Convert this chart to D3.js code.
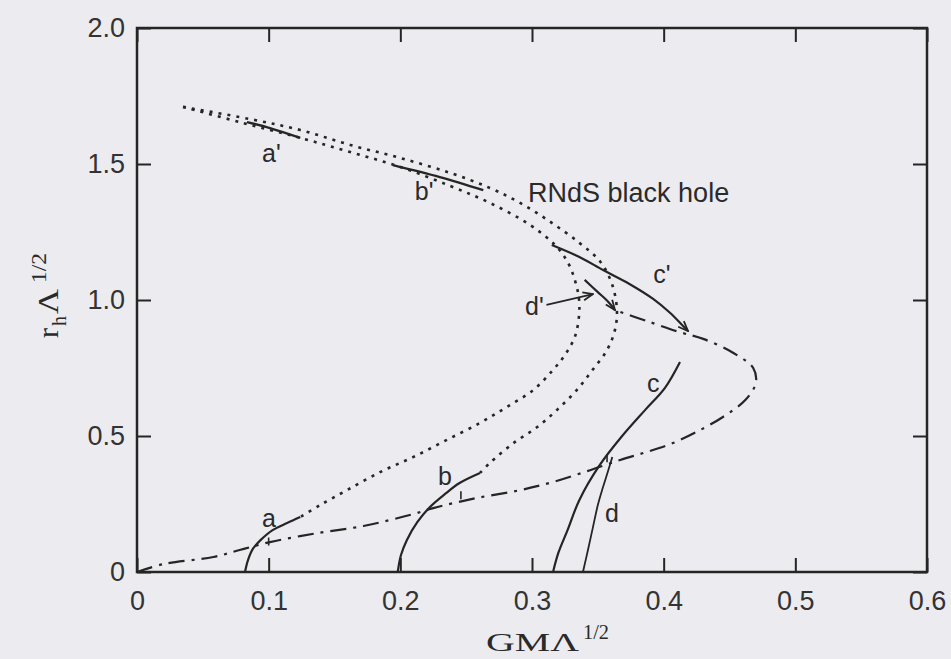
<!DOCTYPE html>
<html>
<head>
<meta charset="utf-8">
<script src="https://cdn.jsdelivr.net/npm/d3@7"></script>
<style>
    body { margin: 0; background: #ececf0; }
    svg { display: block; }
</style>
</head>
<body>
<svg id="chart" width="951" height="659"></svg>
<script>
"use strict";

// axis ticks
const xTicks = [0, 0.1, 0.2, 0.3, 0.4, 0.5, 0.6];
const yTicks = [0, 0.5, 1.0, 1.5, 2.0];

// RNdS black hole branches (dotted)
const rndsOuter = [[0.035,1.710],[0.086,1.665],[0.124,1.625],[0.162,1.570],[0.200,1.522],[0.238,1.467],
    [0.268,1.412],[0.291,1.357],[0.314,1.287],[0.336,1.210],[0.352,1.140],[0.361,1.055],[0.3645,0.963],
    [0.363,0.890],[0.357,0.816],[0.346,0.743],[0.334,0.669],[0.319,0.596],[0.304,0.533],[0.286,0.474],
    [0.268,0.401],[0.2605,0.364]];
const rndsInner = [[0.035,1.710],[0.078,1.654],[0.124,1.596],[0.162,1.544],[0.200,1.489],[0.238,1.419],
    [0.268,1.357],[0.2985,1.276],[0.3175,1.202],[0.327,1.140],[0.333,1.066],[0.336,0.982],[0.333,0.871],
    [0.325,0.798],[0.316,0.743],[0.301,0.669],[0.281,0.607],[0.2605,0.548],[0.235,0.485],[0.210,0.423],
    [0.185,0.368],[0.1595,0.301],[0.139,0.246],[0.124,0.202]];

// boundary (dash-dot)
const boundary = [[0,0],[0.020,0.029],[0.058,0.055],[0.078,0.081],[0.101,0.110],[0.137,0.143],[0.172,0.169],
    [0.192,0.191],[0.210,0.213],[0.225,0.235],[0.258,0.272],[0.291,0.301],[0.316,0.331],[0.342,0.371],
    [0.367,0.412],[0.387,0.441],[0.407,0.474],[0.425,0.515],[0.445,0.570],[0.462,0.632],[0.470,0.695],
    [0.468,0.750],[0.453,0.805],[0.430,0.857],[0.412,0.882],[0.387,0.923],[0.3645,0.960]];

// solutions a-d (small branch) and a'-d' (large branch)
const curveA = [[0.082,0],[0.0843,0.044],[0.088,0.085],[0.094,0.118],[0.103,0.154],[0.114,0.180],[0.124,0.202]];
const curveB = [[0.198,0],[0.2005,0.0625],[0.205,0.118],[0.213,0.184],[0.2225,0.239],[0.234,0.287],[0.245,0.327],[0.2605,0.364]];
const curveC = [[0.316,0],[0.320,0.070],[0.327,0.154],[0.336,0.265],[0.351,0.390],[0.368,0.497],[0.386,0.596],[0.401,0.677],[0.4124,0.772]];
const curveD = [[0.3387,0],[0.3425,0.081],[0.3463,0.165],[0.350,0.246],[0.354,0.313],[0.358,0.375],[0.361,0.423]];
const curveA2 = [[0.0835,1.654],[0.101,1.632],[0.124,1.596]];
const curveB2 = [[0.1944,1.496],[0.230,1.452],[0.263,1.404]];
const curveC2 = [[0.315,1.202],[0.336,1.158],[0.354,1.110],[0.374,1.059],[0.392,1.004],[0.405,0.952],[0.414,0.908],[0.4185,0.886]];
const curveD2 = [[0.340,1.074],[0.350,1.029],[0.358,0.993],[0.363,0.963]];
const dArrow = [[0.311,0.982],[0.3463,1.022]];

// small marks where branches meet the boundary
const meetMarks = [[0.1000,0.112],[0.2460,0.282],[0.3570,0.418]];

// labels: text, x, y (baseline, data units)
const labels = [
    ["a'", 0.095, 1.507], ["b'", 0.211, 1.368], ["c'", 0.392, 1.0625], ["d'", 0.2947, 0.945],
    ["a", 0.095, 0.165], ["b", 0.2286, 0.320], ["c", 0.3873, 0.662], ["d", 0.3554, 0.184],
    ["RNdS black hole", 0.297, 1.360]
];

const ink = "#252525";
const svg = d3.select("#chart");

const x = d3.scaleLinear().domain([0, 0.6]).range([137, 927]);
const y = d3.scaleLinear().domain([0, 2]).range([572, 28]);

const defs = svg.append("defs");
defs.append("marker")
    .attr("id", "arrow")
    .attr("viewBox", "0 0 12 10")
    .attr("refX", 11).attr("refY", 5)
    .attr("markerWidth", 12).attr("markerHeight", 10)
    .attr("markerUnits", "userSpaceOnUse")
    .attr("orient", "auto")
    .append("path")
    .attr("d", "M1,1 L11,5 L1,9")
    .attr("fill", "none")
    .attr("stroke", ink)
    .attr("stroke-width", 1.8);

const fmt = d => d === 0 ? "0" : d.toFixed(1);
const tickFont = "'Liberation Sans', Arial, sans-serif";

function styleAxis(g) {
    g.select(".domain").remove();
    g.selectAll(".tick line").attr("stroke", ink).attr("stroke-width", 2);
    g.selectAll(".tick text").attr("fill", "#333").style("font-family", tickFont).style("font-size", "27px");
}

svg.append("g").attr("transform", "translate(0,572)")
    .call(d3.axisBottom(x).tickValues(xTicks).tickSize(-14).tickPadding(19).tickFormat(fmt))
    .call(styleAxis);
svg.append("g").attr("transform", "translate(0,28)")
    .call(d3.axisTop(x).tickValues(xTicks).tickSize(-14).tickFormat(""))
    .call(styleAxis);
svg.append("g").attr("transform", "translate(137,0)")
    .call(d3.axisLeft(y).tickValues(yTicks).tickSize(-14).tickPadding(12).tickFormat(fmt))
    .call(styleAxis);
svg.append("g").attr("transform", "translate(927,0)")
    .call(d3.axisRight(y).tickValues(yTicks).tickSize(-14).tickFormat(""))
    .call(styleAxis);

// frame
svg.append("rect")
    .attr("x", x(0)).attr("y", y(2))
    .attr("width", x(0.6) - x(0)).attr("height", y(0) - y(2))
    .attr("fill", "none").attr("stroke", ink).attr("stroke-width", 2.5);

const line = d3.line().x(d => x(d[0])).y(d => y(d[1])).curve(d3.curveCatmullRom.alpha(0.5));

function drawCurve(data, dash, width, arrow) {
    const p = svg.append("path")
        .datum(data)
        .attr("d", line)
        .attr("fill", "none")
        .attr("stroke", ink)
        .attr("stroke-width", width);
    if (dash) p.attr("stroke-dasharray", dash);
    if (arrow) p.attr("marker-end", "url(#arrow)");
}

drawCurve(rndsOuter, "3,6", 2.6);
drawCurve(rndsInner, "3,6", 2.6);
drawCurve(boundary, "16,7,3,7", 2.2);
for (const c of [curveA, curveB, curveC]) drawCurve(c, null, 2.2);
drawCurve(curveD, null, 1.8);
drawCurve(curveA2, null, 2.4);
drawCurve(curveB2, null, 2.4);
drawCurve(curveC2, null, 2.2, true);
drawCurve(curveD2, null, 2.2, true);
drawCurve(dArrow, null, 1.8, true);

svg.append("g")
    .selectAll("line")
    .data(meetMarks)
    .join("line")
    .attr("x1", d => x(d[0])).attr("x2", d => x(d[0]))
    .attr("y1", d => y(d[1]) - 4).attr("y2", d => y(d[1]) + 4)
    .attr("stroke", ink).attr("stroke-width", 1.6);

svg.append("g")
    .selectAll("text")
    .data(labels)
    .join("text")
    .attr("x", d => x(d[1]))
    .attr("y", d => y(d[2]))
    .attr("fill", "#2a2a2a")
    .style("font-family", tickFont)
    .style("font-size", d => d[0].length > 2 ? "27px" : "25px")
    .text(d => d[0]);

// axis titles
const serif = "'Liberation Serif', 'Times New Roman', serif";
svg.append("text")
    .attr("x", 486).attr("y", 651)
    .attr("textLength", 93).attr("lengthAdjust", "spacingAndGlyphs")
    .attr("fill", "#2a2a2a")
    .style("font-family", serif).style("font-size", "26px")
    .text("GMΛ");
svg.append("text")
    .attr("x", 583).attr("y", 639)
    .attr("textLength", 26).attr("lengthAdjust", "spacingAndGlyphs")
    .attr("fill", "#2a2a2a")
    .style("font-family", serif).style("font-size", "20px")
    .text("1/2");

const yTitle = svg.append("g").attr("transform", "translate(58,338) rotate(-90)");
yTitle.append("text")
    .attr("x", 0).attr("y", 0)
    .attr("fill", "#2a2a2a").style("font-family", serif).style("font-size", "30px")
    .text("r");
yTitle.append("text")
    .attr("x", 12).attr("y", 8)
    .attr("fill", "#2a2a2a").style("font-family", serif).style("font-size", "20px")
    .text("h");
yTitle.append("text")
    .attr("x", 24).attr("y", 0)
    .attr("textLength", 25).attr("lengthAdjust", "spacingAndGlyphs")
    .attr("fill", "#2a2a2a").style("font-family", serif).style("font-size", "29px")
    .text("Λ");
yTitle.append("text")
    .attr("x", 55).attr("y", -12)
    .attr("textLength", 30).attr("lengthAdjust", "spacingAndGlyphs")
    .attr("fill", "#2a2a2a").style("font-family", serif).style("font-size", "21px")
    .text("1/2");
</script>
</body>
</html>
